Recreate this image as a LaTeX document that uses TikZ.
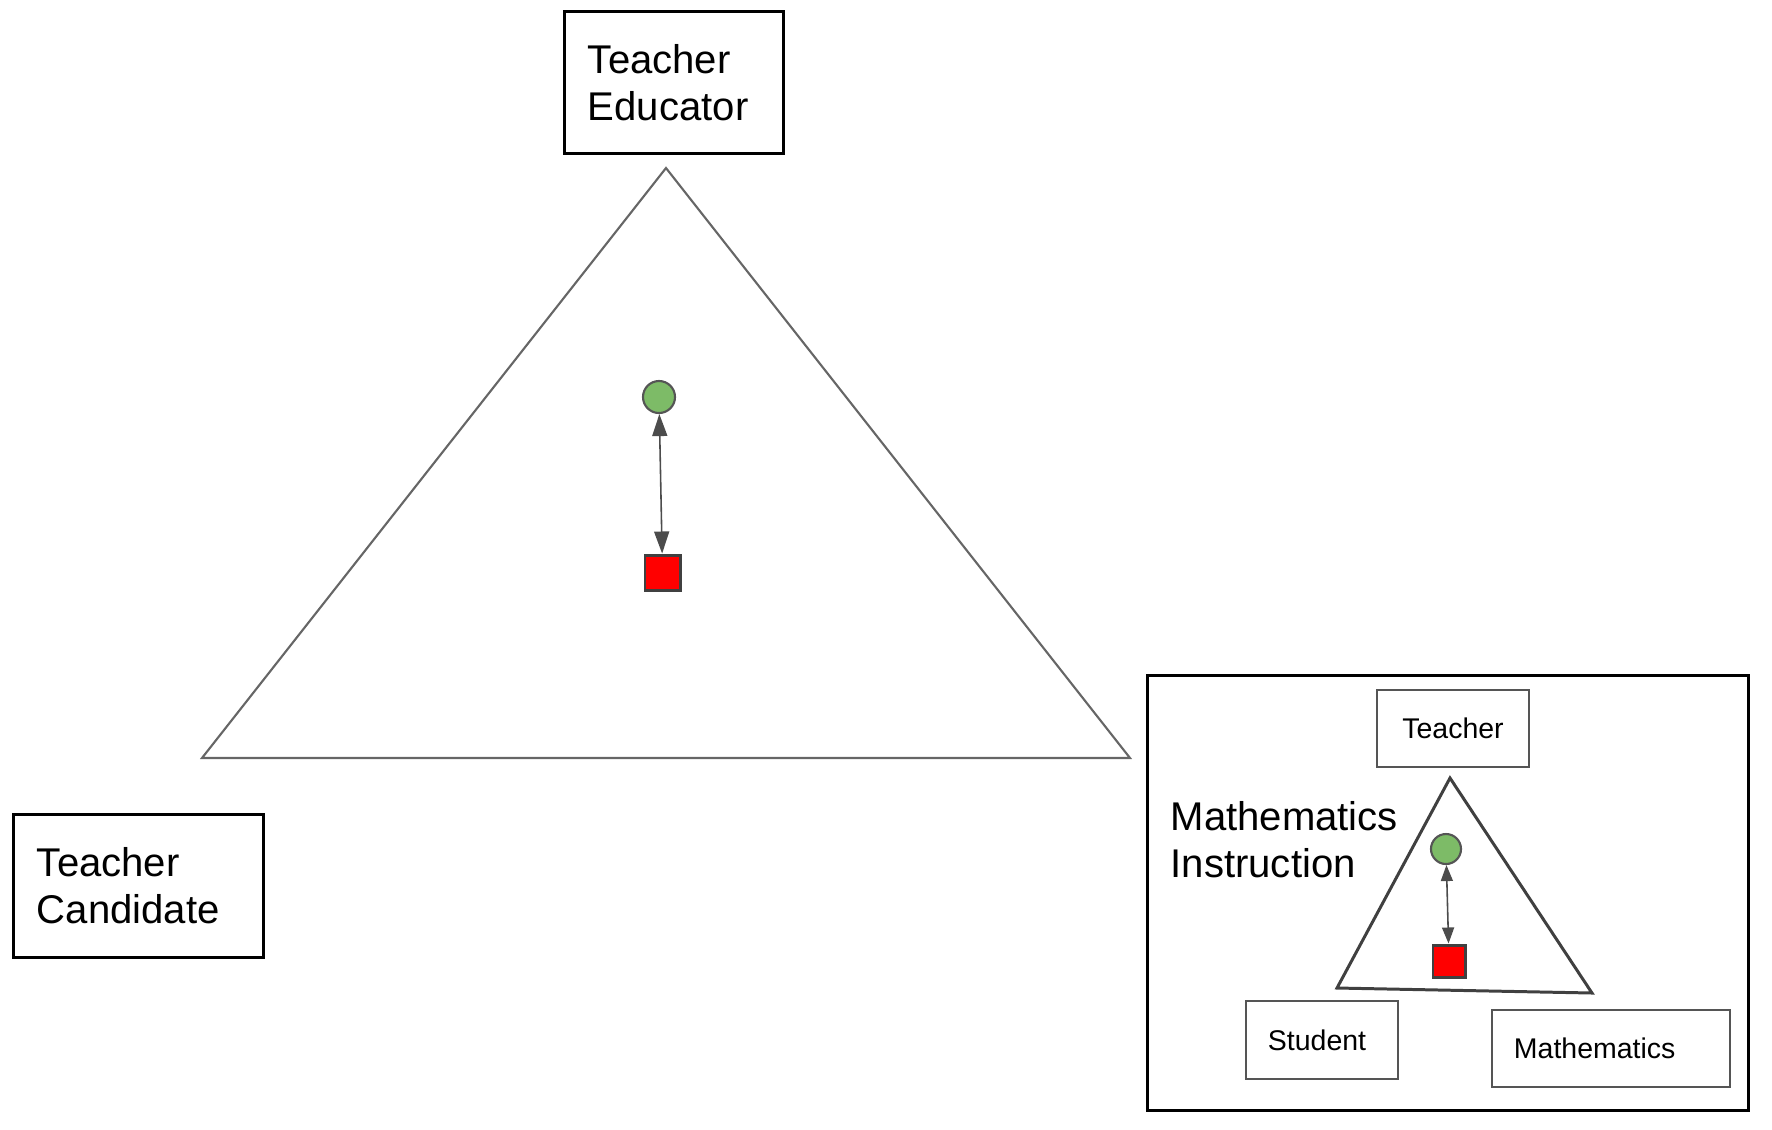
\documentclass[tikz,border=0pt]{standalone}
\usepackage{fontspec}
\setmainfont{Liberation Sans}
\usetikzlibrary{arrows.meta}
\definecolor{dotgreen}{RGB}{125,187,103}
\definecolor{edgegray}{RGB}{85,85,85}

\begin{document}
\begin{tikzpicture}[x=0.01cm,y=-0.01cm,
	bigbox/.style={draw=black,line width=0.85pt,inner ysep=0pt,align=left,font=\fontsize{11.4}{13.4}\selectfont},
	smallbox/.style={draw=edgegray,line width=0.7pt,inner sep=0pt,font=\fontsize{8.1}{9.7}\selectfont},
	dot/.style={circle,draw=edgegray,fill=dotgreen,line width=0.6pt,inner sep=0pt},
	redsq/.style={rectangle,draw=black!75,fill=red,line width=0.85pt,inner sep=0pt},
	link/.style={<->,draw=black!70,line width=0.45pt}]
	\useasboundingbox (0,0) rectangle (1772,1129);

	\draw[black!60,line width=0.6pt] (666,168) -- (1130,758) -- (202,758) -- cycle;
	\node[bigbox,minimum width=2.18cm,minimum height=1.41cm,text width=1.72cm,inner xsep=0.23cm] (educator) at (674,82.5) {Teacher\\Educator};
	\node[bigbox,minimum width=2.49cm,minimum height=1.42cm,text width=2.03cm,inner xsep=0.23cm] (candidate) at (138.5,886) {Teacher\\Candidate};
	\node[dot,minimum size=0.32cm] (bigcirc) at (659,397) {};
	\node[redsq,minimum size=0.35cm] (bigsq) at (662.5,572.5) {};
	\draw[link,>={Triangle[length=2.2mm,width=1.5mm]}] (bigcirc) -- (bigsq);

	\draw[black,line width=0.85pt] (1147,675) rectangle (1748,1110);
	\draw[black!75,line width=0.85pt] (1450,778) -- (1592,993) -- (1337,988) -- cycle;
	\node[smallbox,minimum width=1.52cm,minimum height=0.77cm] (teacher) at (1453,728.5) {Teacher};
	\node[smallbox,minimum width=1.52cm,minimum height=0.78cm,text width=1.08cm,inner xsep=0.22cm,align=left] (student) at (1322,1040) {Student};
	\node[smallbox,minimum width=2.38cm,minimum height=0.77cm,text width=1.94cm,inner xsep=0.22cm,align=left] (maths) at (1611,1048.5) {Mathematics};
	\node[anchor=west,inner sep=0pt,align=left,font=\fontsize{11.4}{13.4}\selectfont] (instruction) at (1170,840) {Mathematics\\Instruction};
	\node[dot,minimum size=0.3cm] (smallcirc) at (1446,849) {};
	\node[redsq,minimum size=0.32cm] (smallsq) at (1449,961) {};
	\draw[link,>={Triangle[length=1.6mm,width=1.2mm]}] (smallcirc) -- (smallsq);
\end{tikzpicture}
\end{document}
